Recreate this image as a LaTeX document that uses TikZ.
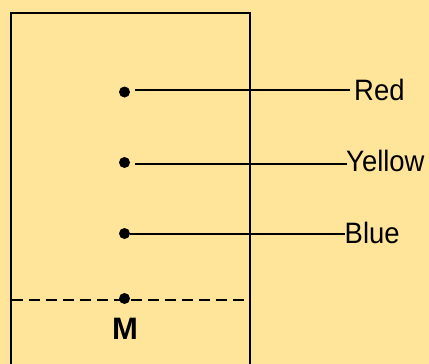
\documentclass[tikz,border=0pt]{standalone}
\usepackage{fontspec}
\setmainfont{Liberation Sans}
\newfontfamily\narrowsans[FakeStretch=0.93]{Liberation Sans}
\definecolor{paper}{HTML}{FFE599}
\tikzset{
  frame/.style={line width=2pt, black},
  wire/.style={line width=2pt, black},
  dot/.style={circle, fill=black, inner sep=0pt, minimum size=11pt},
  colorlabel/.style={anchor=base west, inner sep=0pt, font=\narrowsans\fontsize{29.5}{34}\selectfont},
  marklabel/.style={anchor=base, inner sep=0pt, font=\fontsize{31}{36}\selectfont\bfseries}
}
\begin{document}
\begin{tikzpicture}[x=1pt, y=-1pt]
  % page background and fixed extent
  \fill[paper] (0,0) rectangle (429,364);
  \useasboundingbox (0,0) rectangle (429,364);

  % open-bottomed box
  \draw[frame] (10.5,366) -- (10.5,12.5) -- (250,12.5) -- (250,366);

  % dashed level line
  \draw[wire, dash pattern=on 11pt off 6pt] (11.5,299.5) -- (248,299.5);

  % points
  \node[dot] (pr) at (124.5,92) {};
  \node[dot] (py) at (124.5,162.5) {};
  \node[dot] (pb) at (124.5,233.5) {};
  \node[dot] (pm) at (124.5,298.5) {};

  % labels
  \node[colorlabel] (lr) at (354,100) {Red};
  \node[colorlabel] (ly) at (346,171.5) {Yellow};
  \node[colorlabel] (lb) at (344.5,243) {Blue};
  \node[marklabel] (lm) at (125,339) {M};

  % leader lines
  \draw[wire] ([xshift=5pt]pr.east |- 0,90) -- (350,90) coordinate (er);
  \draw[wire] ([xshift=5pt]py.east |- 0,164) -- (347,164) coordinate (ey);
  \draw[wire] (pb.east |- 0,234) -- (345,234) coordinate (eb);
\end{tikzpicture}
\end{document}
